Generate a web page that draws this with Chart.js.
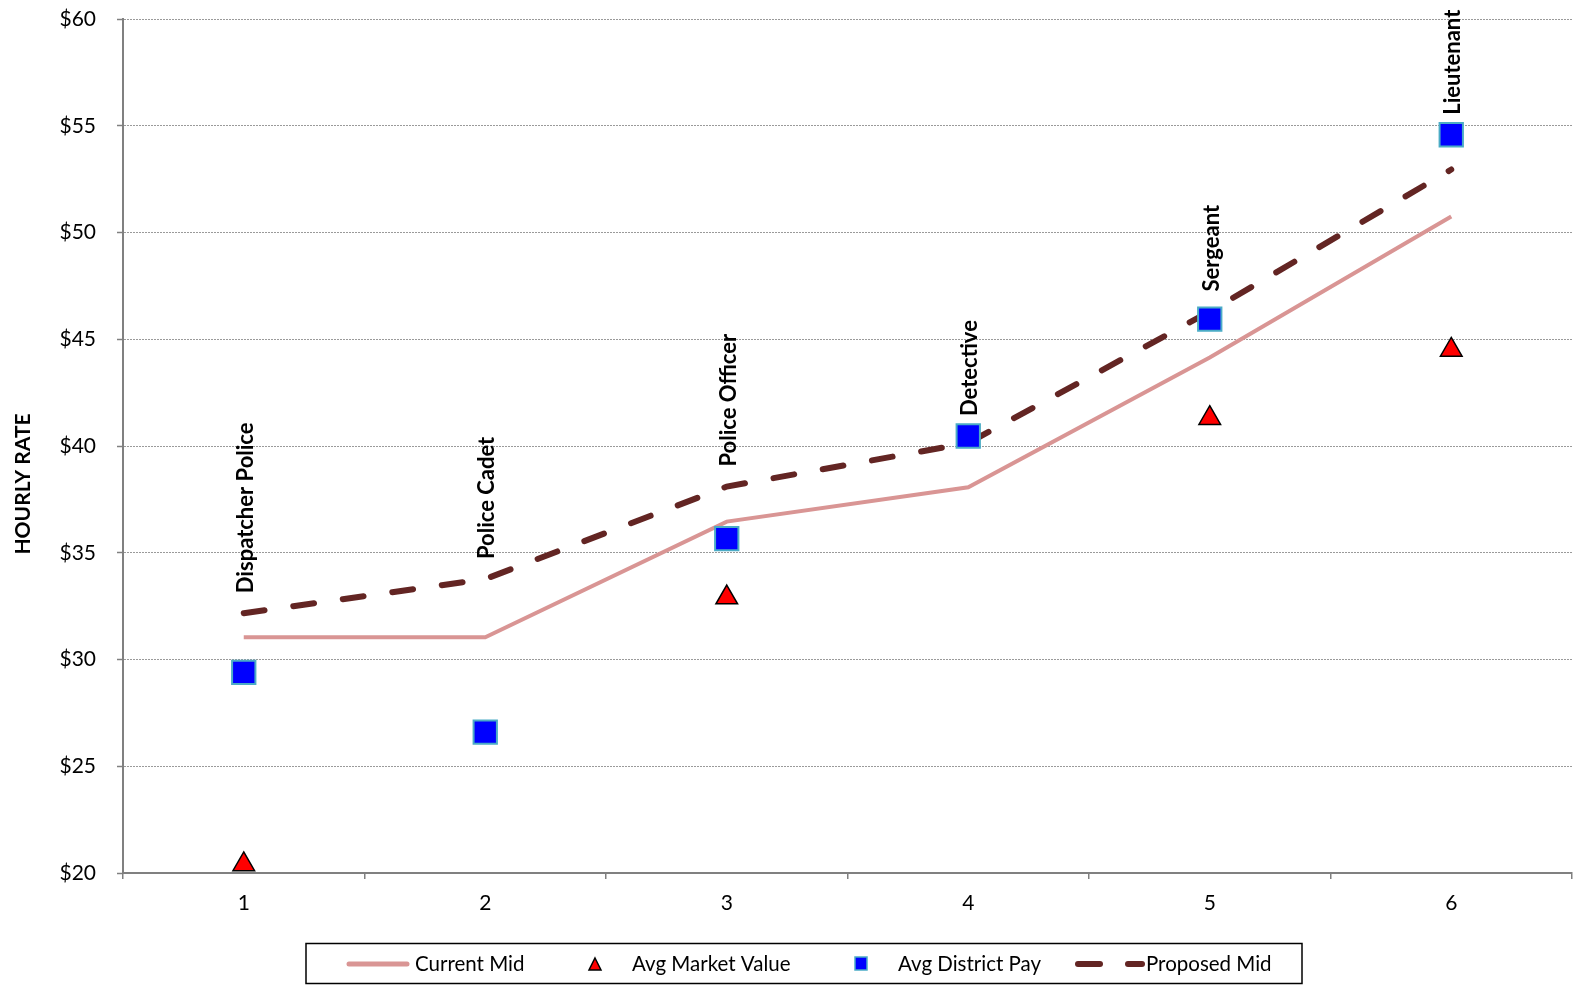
<!DOCTYPE html>
<html lang="en">
<head>
<meta charset="UTF-8">
<title>Hourly Rate by Position</title>
<style>
  html, body { margin: 0; padding: 0; background: #fff; }
  #wrap { width: 1579px; height: 988px; position: relative; }
</style>
</head>
<body>
<div id="wrap"><canvas id="rateChart"></canvas></div>
<script src="https://cdn.jsdelivr.net/npm/chart.js"></script>
<script>
// chart data
const categories = ["1", "2", "3", "4", "5", "6"];
const positions = ["Dispatcher Police", "Police Cadet", "Police Officer", "Detective", "Sergeant", "Lieutenant"];
const currentMid = [31.04, 31.04, 36.46, 38.07, 44.15, 50.75];
const proposedMid = [32.17, 33.77, 38.1, 40.14, 46.3, 52.95];
const avgMarketValue = [20.4, null, 32.9, null, 41.3, 44.5];
const avgDistrictPay = [29.4, 26.6, 35.66, 40.47, 45.94, 54.58];
const yTicks = [20, 25, 30, 35, 40, 45, 50, 55, 60];

const FONT = "Lato, 'Open Sans', sans-serif";

// names of the positions, rotated, above the marks
const positionLabels = {
    id: "positionLabels",
    afterDatasetsDraw(chart) {
        const ctx = chart.ctx;
        const xs = chart.scales.x, ys = chart.scales.y;
        ctx.save();
        ctx.font = "bold 22px " + FONT;
        ctx.fillStyle = "#000";
        ctx.textAlign = "left";
        ctx.textBaseline = "middle";
        positions.forEach((name, i) => {
            const x = xs.getPixelForValue(i);
            const yb = Math.min(ys.getPixelForValue(proposedMid[i]), ys.getPixelForValue(avgDistrictPay[i])) - 20;
            ctx.save();
            ctx.translate(x + 2, yb);
            ctx.rotate(-Math.PI / 2);
            ctx.fillText(name, 0, 0);
            ctx.restore();
        });
        ctx.restore();
    }
};

// y title and boxed legend
const extras = {
    id: "extras",
    afterDraw(chart) {
        const ctx = chart.ctx;
        ctx.save();
        // axis title
        ctx.font = "bold 21px " + FONT;
        ctx.fillStyle = "#000";
        ctx.textAlign = "center";
        ctx.textBaseline = "middle";
        ctx.translate(23, 484);
        ctx.rotate(-Math.PI / 2);
        ctx.fillText("HOURLY RATE", 0, 0);
        ctx.restore();

        // legend
        ctx.save();
        ctx.strokeStyle = "#000";
        ctx.lineWidth = 1.5;
        ctx.strokeRect(306, 943.5, 996, 40);
        const cy = 964;
        ctx.font = "20.5px " + FONT;
        ctx.fillStyle = "#000";
        ctx.textAlign = "left";
        ctx.textBaseline = "middle";

        ctx.strokeStyle = "#D99594";
        ctx.lineWidth = 5;
        ctx.lineCap = "round";
        ctx.beginPath(); ctx.moveTo(349, cy); ctx.lineTo(407, cy); ctx.stroke();
        ctx.fillText("Current Mid", 415, cy);

        ctx.fillStyle = "#FF0000";
        ctx.strokeStyle = "#000";
        ctx.lineWidth = 1.5;
        ctx.beginPath(); ctx.moveTo(595, cy - 6); ctx.lineTo(601, cy + 6); ctx.lineTo(589, cy + 6); ctx.closePath();
        ctx.fill(); ctx.stroke();
        ctx.fillStyle = "#000";
        ctx.fillText("Avg Market Value", 632, cy);

        ctx.fillStyle = "#0000FF";
        ctx.strokeStyle = "#4BACC6";
        ctx.lineWidth = 1.5;
        ctx.fillRect(855, cy - 7, 12, 13);
        ctx.strokeRect(855, cy - 7, 12, 13);
        ctx.fillStyle = "#000";
        ctx.fillText("Avg District Pay", 898, cy);

        ctx.strokeStyle = "#632523";
        ctx.lineWidth = 6;
        ctx.beginPath(); ctx.moveTo(1078, cy); ctx.lineTo(1100, cy); ctx.stroke();
        ctx.beginPath(); ctx.moveTo(1128, cy); ctx.lineTo(1142, cy); ctx.stroke();
        ctx.fillText("Proposed Mid", 1146, cy);
        ctx.restore();
    }
};

const ctx = document.getElementById("rateChart").getContext("2d");
const rateChart = new Chart(ctx, {
    type: "line",
    data: {
        labels: categories,
        datasets: [
            {
                label: "Current Mid",
                data: currentMid,
                borderColor: "#D99594",
                borderWidth: 4,
                pointRadius: 0,
                tension: 0,
                order: 4
            },
            {
                label: "Proposed Mid",
                data: proposedMid,
                borderColor: "#632523",
                borderWidth: 6,
                borderDash: [21, 29],
                borderCapStyle: "round",
                pointRadius: 0,
                tension: 0,
                order: 3
            },
            {
                label: "Avg District Pay",
                data: avgDistrictPay,
                showLine: false,
                pointStyle: "rect",
                pointRadius: 16.5,
                pointBackgroundColor: "#0000FF",
                pointBorderColor: "#4BACC6",
                pointBorderWidth: 2,
                order: 2
            },
            {
                label: "Avg Market Value",
                data: avgMarketValue,
                showLine: false,
                pointStyle: "triangle",
                pointRadius: 12.5,
                pointBackgroundColor: "#FF0000",
                pointBorderColor: "#000",
                pointBorderWidth: 1.5,
                order: 1
            }
        ]
    },
    options: {
        responsive: true,
        maintainAspectRatio: false,
        animation: false,
        events: [],
        layout: { autoPadding: false, padding: { top: 19, right: 7, left: 0, bottom: 0 } },
        plugins: {
            legend: { display: false },
            tooltip: { enabled: false }
        },
        scales: {
            x: {
                type: "category",
                offset: true,
                afterFit(scale) {
                    scale.height = 115;
                    scale.paddingLeft = 0;
                    scale.paddingRight = 0;
                },
                grid: { offset: true, drawOnChartArea: false, tickLength: 6, color: "#808080", lineWidth: 1.5 },
                border: { color: "#808080", width: 2 },
                ticks: { color: "#000", font: { family: FONT, size: 21 }, padding: 12 }
            },
            y: {
                min: 20,
                max: 60,
                afterFit(scale) {
                    scale.width = 123;
                    scale.paddingTop = 0;
                    scale.paddingBottom = 0;
                },
                afterBuildTicks(scale) { scale.ticks = yTicks.map(v => ({ value: v })); },
                grid: { color: "#9a9a9a", lineWidth: 1, tickLength: 6, tickColor: "#808080", tickBorderDash: [], tickWidth: 1.5 },
                border: { color: "#808080", width: 2, dash: [2, 1] },
                ticks: {
                    color: "#000",
                    font: { family: FONT, size: 21 },
                    padding: 21,
                    callback: v => "$" + v
                }
            }
        }
    },
    plugins: [positionLabels, extras]
});
</script>
</body>
</html>
